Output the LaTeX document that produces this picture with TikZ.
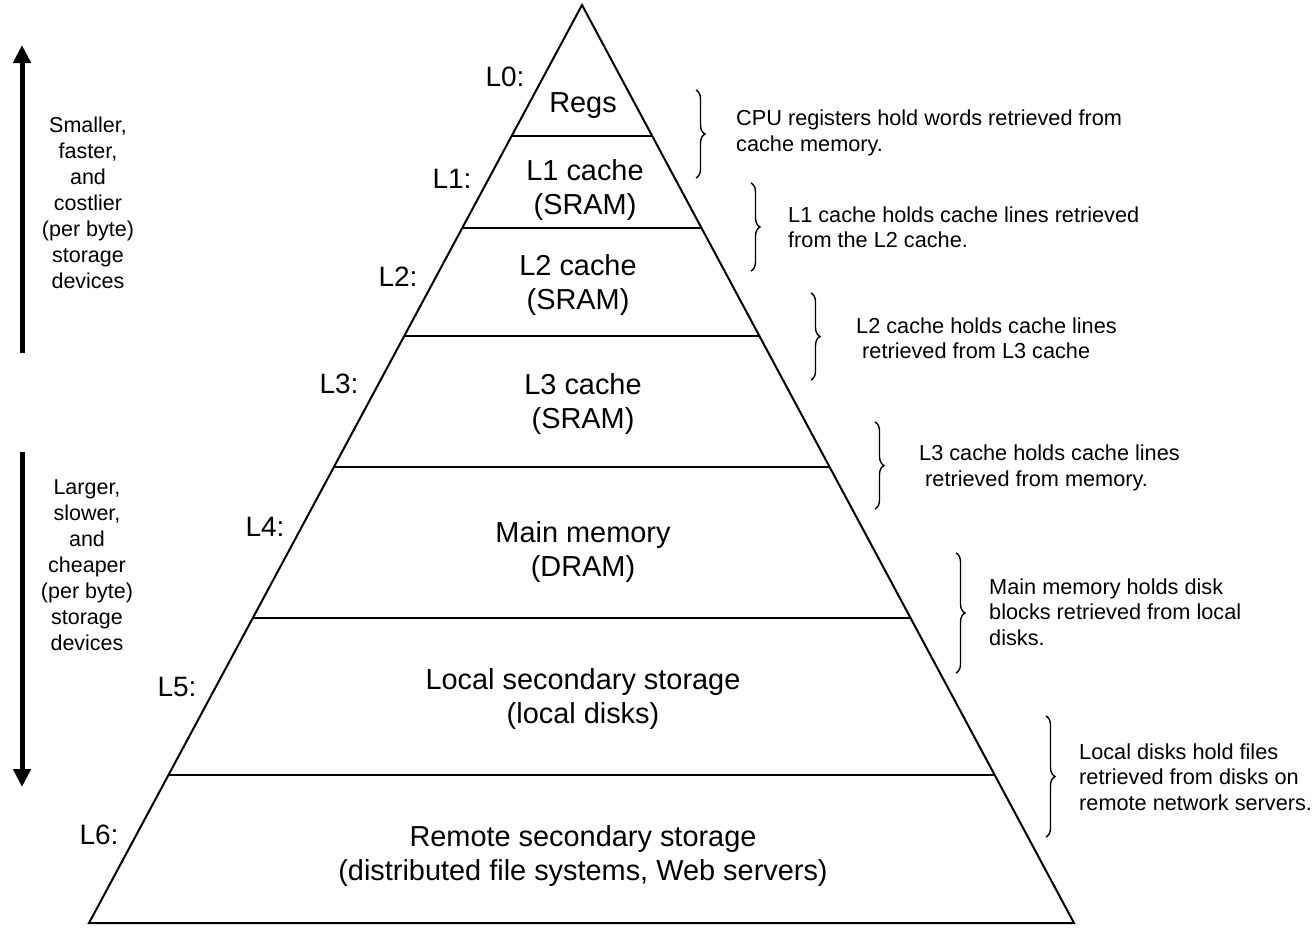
\documentclass[tikz,border=0pt]{standalone}
\usepackage{fontspec}
\setmainfont{Liberation Sans}
\usetikzlibrary{calc,decorations.pathreplacing,arrows.meta}
\begin{document}
\begin{tikzpicture}[x=1pt,y=-1pt,
  edge/.style={line width=2pt, line join=miter},
  tier/.style={line width=2.6pt},
  lvl/.style={font=\fontsize{28.9}{34.5}\selectfont, align=center, inner sep=0pt},
  tag/.style={font=\fontsize{28}{34}\selectfont, inner sep=0pt},
  note/.style={font=\fontsize{21.7}{25.5}\selectfont, align=left, anchor=west, inner sep=0pt},
  side/.style={font=\fontsize{21.5}{26}\selectfont, align=center, inner sep=0pt},
  bracedeco/.style={decorate, decoration={brace, amplitude=9pt}, line width=1.4pt},
  bigarrow/.style={line width=5pt, -{Triangle[width=17pt,length=18pt]}}
]
\useasboundingbox (0,0) rectangle (1313,929);

% pyramid outline
\coordinate (apex) at (582,5);
\coordinate (bl) at (89,923);
\coordinate (br) at (1074,923);
\draw[edge] (apex) -- (bl) -- (br) -- cycle;
\draw[tier] (bl) -- (br);

% tier separators
\foreach \f in {0.1427,0.2429,0.3606,0.5033,0.6678,0.8388}
  \draw[tier] ($(apex)!\f!(bl)$) -- ($(apex)!\f!(br)$);

% level contents
\node[lvl] (regs) at (583,106) {Regs};
\node[lvl] (l1c) at (585,190) {L1 cache\\(SRAM)};
\node[lvl] (l2c) at (578,285) {L2 cache\\(SRAM)};
\node[lvl] (l3c) at (583,404) {L3 cache\\(SRAM)};
\node[lvl] (mm) at (583,552) {Main memory\\(DRAM)};
\node[lvl] (lss) at (583,699) {Local secondary storage\\(local disks)};
\node[lvl] (rss) at (583,856) {Remote secondary storage\\(distributed file systems, Web servers)};

% level tags
\node[tag] (t0) at (505,77) {L0:};
\node[tag] (t1) at (452,179) {L1:};
\node[tag] (t2) at (398,277) {L2:};
\node[tag] (t3) at (339,384) {L3:};
\node[tag] (t4) at (265,527) {L4:};
\node[tag] (t5) at (177,687) {L5:};
\node[tag] (t6) at (99,835) {L6:};

% braces
\draw[bracedeco] (696,90) -- (696,178);
\draw[bracedeco] (751,183) -- (751,271);
\draw[bracedeco] (811,293) -- (811,380);
\draw[bracedeco] (875,422) -- (875,509);
\draw[bracedeco] (956,553) -- (956,673);
\draw[bracedeco] (1046,716) -- (1046,837);

% notes
\node[note] (n0) at (736,133) {CPU registers hold words retrieved from\\cache memory.};
\node[note] (n1) at (788,227) {L1 cache holds cache lines retrieved\\from the L2 cache.};
\node[note] (n2) at (856,338) {L2 cache holds cache lines\\\hspace*{6pt}retrieved from L3 cache};
\node[note] (n3) at (919,468) {L3 cache holds cache lines\\\hspace*{6pt}retrieved from memory.};
\node[note] (n4) at (989,612) {Main memory holds disk\\blocks retrieved from local\\disks.};
\node[note] (n5) at (1079,777) {Local disks hold files\\retrieved from disks on\\remote network servers.};

% side arrows and texts
\coordinate (upbot) at (22,353);
\coordinate (uptop) at (22,45);
\coordinate (dntop) at (22,452);
\coordinate (dnbot) at (22,787);
\draw[bigarrow] (upbot) -- (uptop);
\draw[bigarrow] (dntop) -- (dnbot);
\node[side] (s1) at (88,203) {Smaller,\\faster,\\and\\costlier\\(per byte)\\storage\\devices};
\node[side] (s2) at (87,565) {Larger,\\slower,\\and\\cheaper\\(per byte)\\storage\\devices};
\end{tikzpicture}
\end{document}
